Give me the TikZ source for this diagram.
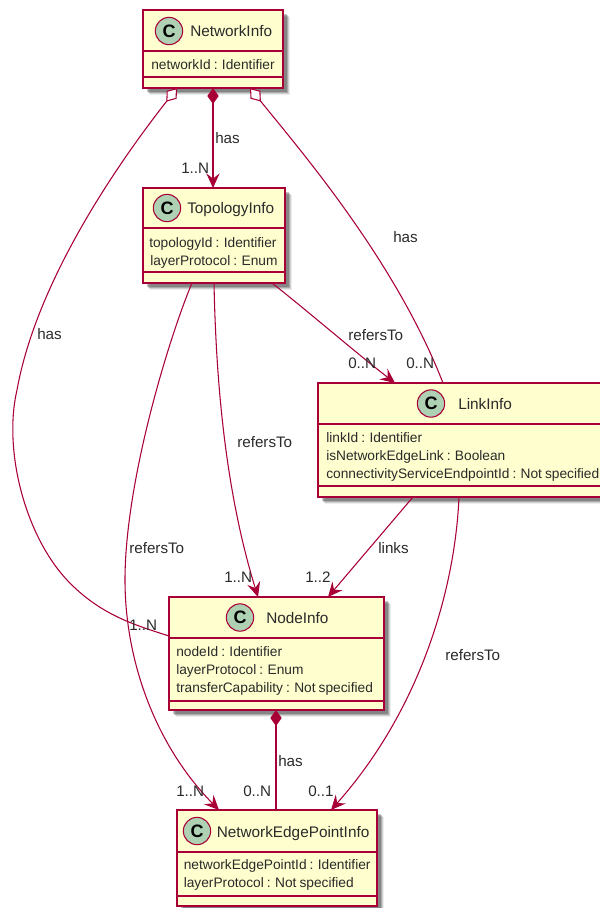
\documentclass[tikz,border=0pt]{standalone}
\usepackage{fontspec}
\setmainfont{Liberation Sans}
\newfontfamily\attrfont[WordSpace=0.8]{Liberation Sans}
\usetikzlibrary{arrows.meta,calc}
\definecolor{umlred}{HTML}{A80036}
\definecolor{umlfill}{HTML}{FEFECE}
\definecolor{umlgreen}{HTML}{ADD1B2}
\definecolor{umltext}{HTML}{2A2A2A}
\tikzset{
  umlboxstyle/.style={draw=umlred,fill=umlfill,line width=1.1pt,inner sep=0pt,outer sep=0pt,rectangle},
  divider/.style={draw=umlred,line width=.95pt},
  circ/.style={circle,draw=umlred,fill=umlgreen,line width=.8pt,minimum size=20.5pt,inner sep=0pt,font=\fontsize{13.5}{14}\selectfont\bfseries,text=black},
  titletext/.style={anchor=base west,inner sep=0pt,font=\fontsize{11.5}{13}\selectfont,text=umltext},
  attr/.style={anchor=base west,inner sep=0pt,font=\attrfont\fontsize{10.3}{11}\selectfont,text=umltext},
  lab/.style={anchor=base west,inner sep=0pt,font=\fontsize{11.4}{13}\selectfont,text=umltext},
  conn/.style={draw=umlred,line width=.8pt},
  arr/.style={conn,-{Stealth[length=11pt,width=10pt,inset=4pt]}},
  comp/.style={{Diamond[length=12pt,width=8.5pt,fill=umlred]}-},
  comparr/.style={conn,{Diamond[length=12pt,width=8.5pt,fill=umlred]}-{Stealth[length=11pt,width=10pt,inset=4pt]}},
  aggr/.style={{Diamond[length=13pt,width=9.5pt,fill=white]}-}
}
\newcommand{\umlbox}[7]{%
  \foreach \o/\a in {7/.07,6/.12,5/.18,4/.22}{
    \fill[black,opacity=\a] ({#2+\o},{#3+\o}) rectangle ({#4+\o},{#5+\o});
  }
  \node[umlboxstyle,minimum width={(#4-#2)*.75pt},minimum height={(#5-#3)*.75pt}] (#1) at ({(#2+#4)/2},{(#3+#5)/2}) {};
  \draw[divider] (#2,#6) -- (#4,#6);
  \draw[divider] (#2,#7) -- (#4,#7);
}
\begin{document}
\begin{tikzpicture}[x=.75pt,y=-.75pt]
\useasboundingbox (0,0) rectangle (600,908);
\clip (0,0) rectangle (600,908);

\umlbox{net}{143}{10}{283}{88}{51}{77}
\umlbox{topo}{143}{188}{285}{283}{228}{272}
\umlbox{link}{318}{383}{606}{497}{424}{486}
\umlbox{nodeb}{169}{597}{384}{710}{638}{701}
\umlbox{nep}{177}{810}{377}{906}{852}{896}

% NetworkInfo
\node[circ] (cnet) at (169,31) {C};
\node[titletext] (tnet) at (190,36) {NetworkInfo};
\node[attr] (anet) at (151,69) {networkId : Identifier};
% TopologyInfo
\node[circ] (ctopo) at (167,208) {C};
\node[titletext] (ttopo) at (187,213.5) {TopologyInfo};
\node[attr] (atopo1) at (149,247) {topologyId : Identifier};
\node[attr] (atopo2) at (150,265) {layerProtocol : Enum};
% LinkInfo
\node[circ] (clink) at (431,403.5) {C};
\node[titletext] (tlink) at (458,409) {LinkInfo};
\node[attr] (alink1) at (326,442) {linkId : Identifier};
\node[attr] (alink2) at (326,460) {isNetworkEdgeLink : Boolean};
\node[attr] (alink3) at (326,478) {connectivityServiceEndpointId : Not specified};
% NodeInfo
\node[circ] (cnode) at (240,617.5) {C};
\node[titletext] (tnode) at (266,623) {NodeInfo};
\node[attr] (anode1) at (176,656) {nodeId : Identifier};
\node[attr] (anode2) at (176,674) {layerProtocol : Enum};
\node[attr] (anode3) at (176,692) {transferCapability : Not specified};
% NetworkEdgePointInfo
\node[circ] (cnep) at (197,831) {C};
\node[titletext] (tnep) at (216.5,837) {NetworkEdgePointInfo};
\node[attr] (anep1) at (183.5,869) {networkEdgePointId : Identifier};
\node[attr] (anep2) at (183.5,887) {layerProtocol : Not specified};

% connectors
\draw[comparr] ($(net.south west)+(70,0)$) -- ($(topo.north west)+(70,0)$);
\draw[conn,aggr] ($(net.south west)+(34,0)$) .. controls (105,180) and (35,290) .. (17,390) .. controls (3,450) and (25,535) .. (67,580) .. controls (100,615) and (135,625) .. ($(nodeb.north west)+(0,39)$);
\draw[conn,aggr] ($(net.south west)+(107,0)$) .. controls (300,150) and (395,260) .. ($(link.north west)+(125,0)$);
\draw[arr] ($(topo.south west)+(129,0)$) .. controls (310,313) and (355,352) .. ($(link.north west)+(77,0)$);
\draw[arr] ($(topo.south west)+(71,0)$) .. controls (216,380) and (225,490) .. ($(nodeb.north west)+(89,0)$);
\draw[arr] ($(topo.south west)+(49,0)$) .. controls (170,335) and (125,480) .. (125,580) .. controls (125,660) and (155,745) .. ($(nep.north west)+(42,0)$);
\draw[arr] ($(link.south west)+(95,0)$) -- ($(nodeb.north west)+(159,0)$);
\draw[arr] ($(link.south west)+(141,0)$) .. controls (455,590) and (420,710) .. ($(nep.north west)+(154,0)$);
\draw[conn,comp] ($(nodeb.south west)+(107,0)$) -- ($(nep.north west)+(99,0)$);

% labels
\node[lab] (l1) at (215,143) {has};
\node[lab] (l2) at (181,173) {1..N};
\node[lab] (l3) at (393,242) {has};
\node[lab] (l4) at (37,339) {has};
\node[lab] (l5) at (348,340) {refersTo};
\node[lab] (l6) at (348,368) {0..N};
\node[lab] (l7) at (406,368) {0..N};
\node[lab] (l8) at (237,447) {refersTo};
\node[lab] (l9) at (129,553) {refersTo};
\node[lab] (l10) at (378,553) {links};
\node[lab] (l11) at (224,582.5) {1..N};
\node[lab] (l12) at (305,582) {1..2};
\node[lab] (l13) at (129,630) {1..N};
\node[lab] (l14) at (445,660) {refersTo};
\node[lab] (l15) at (278,766) {has};
\node[lab] (l16) at (176,796) {1..N};
\node[lab] (l17) at (243,796) {0..N};
\node[lab] (l18) at (308,796) {0..1};
\end{tikzpicture}
\end{document}
